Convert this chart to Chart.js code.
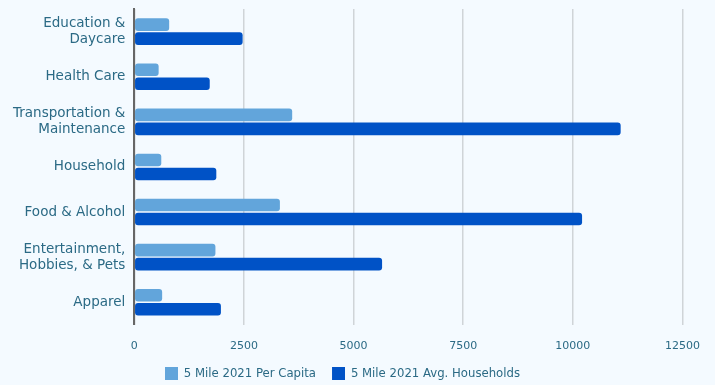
<!DOCTYPE html>
<html>
<head>
<meta charset="utf-8">
<script src="https://cdn.jsdelivr.net/npm/chart.js@4"></script>
<style>
  html, body { margin: 0; padding: 0; background: #f4faff; }
  #wrap { width: 715px; height: 385px; position: relative; }
</style>
</head>
<body>
<div id="wrap"><canvas id="chart"></canvas></div>
<script>
// Spending categories, top to bottom
const categories = [
  ['Education &', 'Daycare'],
  'Health Care',
  ['Transportation &', 'Maintenance'],
  'Household',
  'Food & Alcohol',
  ['Entertainment,', 'Hobbies, & Pets'],
  'Apparel',
];
const perCapita = [795, 555, 3600, 615, 3320, 1850, 635];
const avgHouseholds = [2470, 1720, 11090, 1870, 10210, 5650, 1975];
const xTicks = [0, 2500, 5000, 7500, 10000, 12500];

const TEXT = '#2b6a85';
const FONT = "'DejaVu Sans', sans-serif";

// keep the legend strip short so the plot gets the room, and nudge it into place
const legendTweak = {
  id: 'legendTweak',
  afterInit(chart) {
    const lg = chart.legend;
    const fit = lg.fit.bind(lg);
    const draw = lg.draw.bind(lg);
    lg.fit = function () {
      fit();
      this.height = 17;
    };
    lg.draw = function () {
      const ctx = chart.ctx;
      ctx.save();
      ctx.translate(-12, -17);
      // skip the legend's own clip box, it would cut the shifted items
      if (typeof this._draw === 'function') this._draw();
      else draw();
      ctx.restore();
    };
  },
};

new Chart(document.getElementById('chart'), {
  type: 'bar',
  data: {
    labels: categories,
    datasets: [
      {
        label: '5 Mile 2021 Per Capita',
        data: perCapita,
        backgroundColor: '#62a5db',
        borderRadius: 3,
        borderSkipped: false,
        categoryPercentage: 0.62,
        barPercentage: 0.9,
      },
      {
        label: '5 Mile 2021 Avg. Households',
        data: avgHouseholds,
        backgroundColor: '#0052c6',
        borderRadius: 3,
        borderSkipped: false,
        categoryPercentage: 0.62,
        barPercentage: 0.9,
      },
    ],
  },
  options: {
    indexAxis: 'y',
    responsive: true,
    maintainAspectRatio: false,
    animation: false,
    layout: { padding: { left: 12, right: 18, top: 9, bottom: 0 } },
    plugins: {
      legend: {
        position: 'bottom',
        labels: {
          color: TEXT,
          font: { family: FONT, size: 11.7 },
          boxWidth: 13,
          boxHeight: 13,
          padding: 16,
        },
      },
      tooltip: { enabled: false },
    },
    scales: {
      x: {
        min: 0,
        max: 12500,
        afterBuildTicks: (axis) => { axis.ticks = xTicks.map((v) => ({ value: v })); },
        ticks: {
          color: TEXT,
          font: { family: FONT, size: 11 },
          padding: 15,
          callback: (v) => String(v),
        },
        grid: { color: '#cfd4d8', lineWidth: 1.5, drawTicks: false },
        border: { display: false },
      },
      y: {
        ticks: { color: TEXT, font: { family: FONT, size: 13.5 }, padding: 1 },
        grid: { display: false },
        border: { display: true, color: '#666', width: 2 },
      },
    },
  },
  plugins: [legendTweak],
});
</script>
</body>
</html>
